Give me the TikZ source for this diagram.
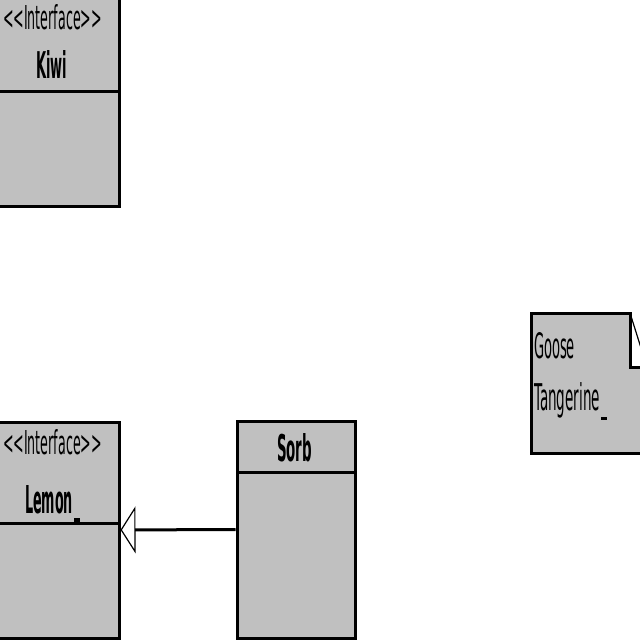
\documentclass[tikz,border=0pt]{standalone}
\usepackage{fontspec}
\setmainfont{DejaVu Sans}
\usepackage{graphicx}
\usetikzlibrary{arrows.meta}
\definecolor{boxgray}{RGB}{192,192,192}
\newcommand\fittext[3]{\resizebox{#1pt}{#2pt}{#3}}
\begin{document}
\begin{tikzpicture}[x=1pt,y=-1pt,
  umlbox/.style={draw=black, fill=boxgray, line width=3pt, rectangle, inner sep=0pt},
  lbl/.style={anchor=base west, inner sep=0pt, outer sep=0pt},
  divider/.style={line width=3pt},
  realize/.style={line width=3pt, -{Triangle[length=15pt,width=47pt,fill=white,line width=1.2pt]}},
  notebody/.style={draw=black, fill=boxgray, line width=3pt},
  foldline/.style={line width=1.2pt}]
\useasboundingbox (0,0) rectangle (640,640);
\clip (0,0) rectangle (640,640);
\fill[white] (0,0) rectangle (640,640);

% Kiwi interface
\node[umlbox, minimum width=139pt, minimum height=226pt] (kiwi) at (49.5,93) {};
\draw[divider] (-20,91) -- (119,91);
\node[lbl] (kiwist) at (3,29) {\fittext{99}{25}{<{}<Interface>{}>}};
\node[lbl] (kiwiname) at (36,78) {\fittext{31}{28}{\bfseries Kiwi}};

% Lemon interface
\node[umlbox, minimum width=139pt, minimum height=216pt] (lemon) at (49.5,530) {};
\draw[divider] (-20,523.5) -- (119,523.5);
\node[lbl] (lemonst) at (3,454) {\fittext{99}{25}{<{}<Interface>{}>}};
\node[lbl] (lemonname) at (25,513) {\fittext{48}{28}{\bfseries Lemon}};
\fill (74,518) rectangle (80,523);

% Sorb class
\node[umlbox, minimum width=118pt, minimum height=217pt] (sorb) at (296,529.5) {};
\draw[divider] (237,472.5) -- (355,472.5);
\node[lbl] (sorbname) at (277,461) {\fittext{35}{28}{\bfseries Sorb}};

% realization
\draw[realize] (sorb) -- (lemon);

% note
\draw[notebody] (531,313) -- (630,313) -- (630,367) -- (647,367) -- (647,453) -- (531,453) -- cycle;
\draw[foldline] (630,313) -- (647,367);
\node[lbl] (goose) at (534,358) {\fittext{41}{26}{Goose}};
\node[lbl] (tangerine) at (534,410) {\fittext{66}{28}{Tangerine}};
\fill (601,417) rectangle (607,420);
\end{tikzpicture}
\end{document}
